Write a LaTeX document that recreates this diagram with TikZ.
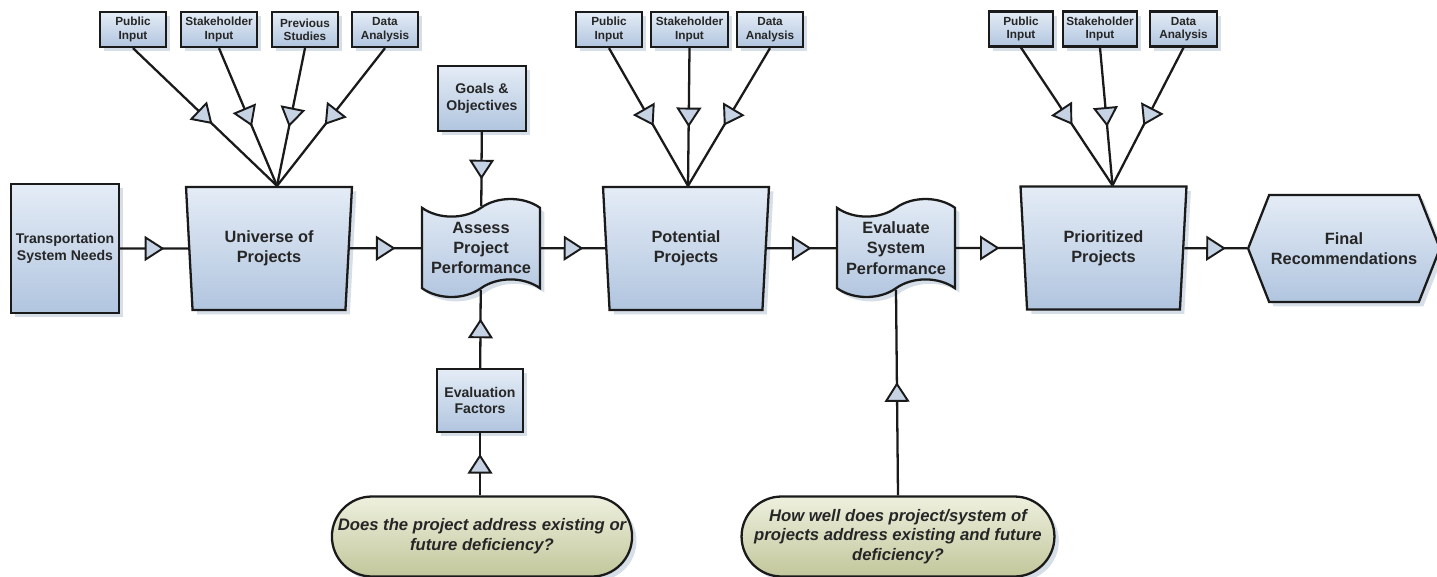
\documentclass[tikz,border=0pt]{standalone}
\usepackage{fontspec}
\setmainfont{Liberation Sans}
\usetikzlibrary{shapes.geometric,shapes.symbols,shapes.misc,shadows,decorations.markings,calc}
\definecolor{boxtop}{HTML}{E4ECF6}
\definecolor{boxbot}{HTML}{B1C5DF}
\definecolor{elltop}{HTML}{EEF0DE}
\definecolor{ellbot}{HTML}{C2C79B}
\definecolor{linec}{HTML}{1A1A1A}
\definecolor{txt}{HTML}{262626}
\definecolor{trif}{HTML}{C6D3E5}
\definecolor{shadowc}{HTML}{B4C2D6}
\begin{document}
\begin{tikzpicture}[x=0.02cm,y=-0.02cm,
  base/.style={draw=linec, line width=1.3pt, text=txt, align=center, inner sep=1pt,
    drop shadow={shadow xshift=2.5pt, shadow yshift=-2.5pt, fill=shadowc, opacity=0.55}},
  bluebox/.style={base, top color=boxtop, bottom color=boxbot},
  mainfont/.style={font=\fontsize{9.3}{11.6}\selectfont\bfseries},
  midfont/.style={font=\fontsize{8}{9.6}\selectfont\bfseries},
  inbox/.style={bluebox, rectangle, minimum width=#1, minimum height=0.7cm,
    font=\fontsize{6.7}{7.6}\selectfont\bfseries},
  trap/.style={bluebox, trapezium, shape border rotate=180, trapezium angle=80.5,
    trapezium stretches body, minimum width=3.32cm, minimum height=2.46cm, mainfont},
  tapebox/.style={bluebox, tape, tape bend top=in and out, tape bend bottom=in and out,
    tape bend height=10pt, minimum width=2.36cm, minimum height=1.96cm, mainfont},
  question/.style={base, rounded rectangle, top color=elltop, bottom color=ellbot,
    minimum height=1.6cm, minimum width=#1,
    font=\fontsize{9.5}{11.2}\selectfont\bfseries\itshape},
  midarrow/.style={postaction={decorate, decoration={markings, mark=at position 0.5 with
    {\draw[line width=1.1pt, fill=trif, draw=linec] (-4.8pt,-6.2pt) -- (4.8pt,0pt) -- (-4.8pt,6.2pt) -- cycle;}}}},
  flow/.style={draw=linec, line width=1.3pt, midarrow}
]
\useasboundingbox (0,0) rectangle (1437,576);

% main row
\node[bluebox, rectangle, minimum width=2.16cm, minimum height=2.58cm, midfont] (tsn) at (65,248.5) {Transportation\\System Needs};
\node[trap] (uop) at (269,248.5) {Universe of\\Projects};
\node[tapebox] (assess) at (481,248) {Assess\\Project\\Performance};
\node[trap] (pot) at (686,248.5) {Potential\\Projects};
\node[tapebox] (eval) at (896,248) {Evaluate\\System\\Performance};
\node[trap] (pri) at (1103.5,248) {Prioritized\\Projects};
\node[bluebox, signal, signal to=west and east, signal pointer angle=137,
  minimum width=3.68cm, minimum height=2.14cm, mainfont] (fin) at (1344,248.5) {Final\\Recommendations};

% side boxes
\node[bluebox, rectangle, minimum width=1.76cm, minimum height=1.3cm, midfont] (goals) at (482,98.5) {Goals \&\\Objectives};
\node[bluebox, rectangle, minimum width=1.72cm, minimum height=1.26cm, midfont] (evf) at (480,400.5) {Evaluation\\Factors};
\node[question=6.0cm] (q1) at (482,536.5) {Does the project address existing or\\future deficiency?};
\node[question=5.9cm] (q2) at (898,536.5) {How well does project/system of\\projects address existing and future\\deficiency?};

% input boxes, group 1
\node[inbox=1.32cm] (pi1) at (133,29.5) {Public\\Input};
\node[inbox=1.52cm] (si1) at (219,29.5) {Stakeholder\\Input};
\node[inbox=1.32cm] (ps1) at (305,29.5) {Previous\\Studies};
\node[inbox=1.32cm] (da1) at (385,29.5) {Data\\Analysis};
% group 2
\node[inbox=1.32cm] (pi2) at (609,29.5) {Public\\Input};
\node[inbox=1.54cm] (si2) at (689.5,29.5) {Stakeholder\\Input};
\node[inbox=1.32cm] (da2) at (770,29.5) {Data\\Analysis};
% group 3
\node[inbox=1.28cm] (pi3) at (1021,29) {Public\\Input};
\node[inbox=1.48cm] (si3) at (1100,29) {Stakeholder\\Input};
\node[inbox=1.34cm] (da3) at (1183.5,29) {Data\\Analysis};

\coordinate (uoptop) at ($(uop.north)+(8,0)$);
\coordinate (pottop) at ($(pot.north)+(2,0)$);
\coordinate (pritop) at ($(pri.north)+(9,0)$);

% connectors
\draw[flow] (tsn) -- (uop);
\draw[flow] (uop) -- (assess);
\draw[flow] (assess) -- (pot);
\draw[flow] (pot) -- (eval);
\draw[flow] (eval) -- (pri);
\draw[flow] (pri) -- (fin);

\foreach \n in {pi1,si1,ps1,da1} \draw[flow] (\n.south) -- (uoptop);
\foreach \n in {pi2,si2,da2} \draw[flow] (\n.south) -- (pottop);
\foreach \n in {pi3,si3,da3} \draw[flow] (\n.south) -- (pritop);

\draw[flow] (goals) -- (assess);
\draw[flow] (evf) -- (assess);
\draw[flow] (q1.north -| evf) -- (evf);
\draw[flow] (q2.north) -- (eval.south);
\end{tikzpicture}
\end{document}
